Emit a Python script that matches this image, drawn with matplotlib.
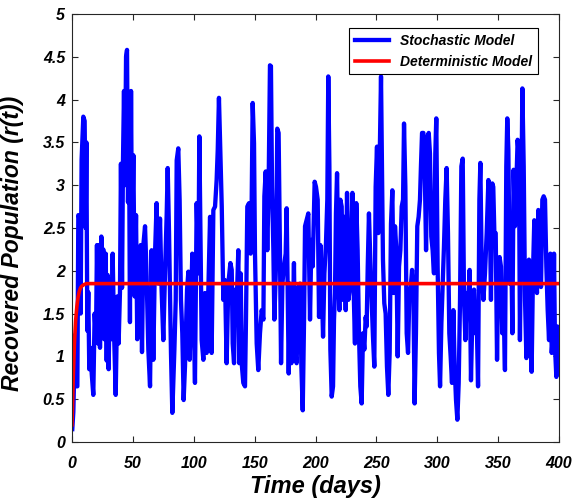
import numpy as np
import matplotlib
matplotlib.use('Agg')
from matplotlib import pyplot as plt

plt.rcParams['font.family'] = ['Liberation Sans', 'DejaVu Sans']

# Stochastic model: peaks and troughs (day, r)
stoch_days = [
    0.25, 1.1, 2.5, 3.3, 4.4, 5.2, 6.6, 7.1, 7.9, 9.3, 10.4, 11.2, 11.8, 12.6,
    13.4, 14.2, 15.3, 16.2, 17.5, 18.6, 19.7, 20.5, 21.4, 22.2, 23.0, 24.1,
    24.9, 25.7, 26.5, 27.7, 28.5, 29.3, 30.1, 31.2, 32.3, 33.4, 34.5, 35.9,
    37.2, 38.3, 39.4, 40.2, 41.1, 41.9, 42.7, 43.5, 44.4, 45.2, 46.0, 46.8,
    47.6, 48.5, 49.3, 50.4, 51.5, 52.6, 53.6, 54.8, 55.6, 56.4, 57.5, 58.6,
    60.0, 61.3, 62.7, 64.1, 65.4, 66.8, 68.2, 69.5, 70.9, 72.3, 73.6, 75.0,
    76.4, 77.8, 78.6, 79.7, 81.3, 82.4, 84.1, 85.2, 86.0, 87.3, 88.4, 89.5,
    90.6, 91.7, 92.8, 94.5, 95.6, 96.6, 97.7, 98.8, 99.9, 101.0, 102.4, 103.8,
    104.6, 105.4, 106.5, 107.9, 109.2, 110.6, 112.0, 113.4, 114.7, 116.1,
    117.5, 118.8, 119.7, 120.7, 121.8, 123.0, 124.3, 125.7, 127.0, 128.4,
    130.1, 131.2,
    132.0, 133.1, 134.1, 135.2, 136.6, 137.4, 138.5, 139.6, 140.7, 142.1,
    142.9, 144.0, 145.4, 146.7, 147.6, 148.4, 149.5, 150.3, 151.7, 153.0,
    154.4, 155.8, 157.2, 158.0, 159.1, 160.4, 161.5, 162.6, 163.4, 164.3,
    165.4, 166.2, 167.6, 168.6, 169.7, 170.8, 171.7, 172.8, 174.1, 175.5,
    176.3, 177.1, 178.0, 179.1, 180.2, 181.2, 182.3, 183.2, 184.5, 185.9,
    187.3, 188.4, 189.5, 190.6, 191.4, 192.7, 194.1, 195.5, 196.6, 197.7,
    199.3, 200.4, 201.8,
    202.9, 204.0, 205.1, 206.2, 207.3, 208.6, 209.7, 210.5, 211.4, 212.2,
    213.3, 214.4, 215.2, 216.0, 216.8, 217.7, 218.8, 219.6, 220.4, 221.5,
    222.6, 223.7, 224.8, 225.9, 227.0, 228.1, 229.2, 230.3, 231.4, 232.4,
    233.5, 234.6, 235.7, 236.8, 237.9, 239.0, 240.1, 241.2, 242.0, 242.9,
    243.9, 245.0, 246.1, 247.2, 248.3, 249.4, 250.5, 251.6, 252.7, 253.8,
    254.6, 255.4, 256.5, 257.6, 258.7, 259.8, 260.9, 262.0, 263.1, 264.2,
    265.3, 266.4, 267.5, 268.6, 269.7, 270.8, 271.9, 272.7,
    273.8, 274.9, 276.0, 277.1, 278.2, 279.3, 280.4, 281.4, 282.5, 283.6,
    284.7, 285.8, 286.6, 287.5, 288.6, 289.7, 290.8, 291.9, 293.0, 294.0,
    295.1, 296.2, 297.3, 298.4, 299.2, 300.3, 301.4, 302.3, 303.4, 304.4,
    305.5, 306.6, 307.7, 308.8, 309.9, 311.0, 312.1, 313.2, 314.3, 315.4,
    316.5, 317.6, 318.7, 319.8, 320.9, 322.0, 323.1, 324.2, 325.5, 326.6,
    327.7, 329.1, 330.2, 331.3, 332.4, 333.5, 334.6, 335.4, 336.5, 337.9,
    339.2, 340.6, 342.0,
    343.0, 344.1, 345.2, 346.0, 346.9, 348.0, 349.1, 350.2, 351.2, 352.3,
    353.4, 354.5, 355.6, 356.7, 357.5, 358.4, 359.5, 360.6, 361.7, 362.7,
    363.8, 364.9, 366.0, 367.1, 367.9, 368.8, 369.9, 371.0, 372.1, 373.2,
    374.2, 375.3, 376.4, 377.5, 378.6, 379.7, 380.8, 381.9, 383.0, 384.1,
    385.2, 386.3, 387.4, 388.5, 389.6, 390.7, 391.8, 392.9, 394.0, 395.1,
    395.9, 396.7, 397.8, 398.6, 399.4, 400.0,
]
stoch_vals = [
    0.15, 0.35, 1.25, 0.65, 0.65, 2.65, 2.6, 1.5, 3.3, 3.8, 3.75, 2.5, 3.5, 1.3,
    1.75, 0.85, 1.1, 0.8, 0.55, 1.5, 1.2, 2.3, 1.15, 2.3, 1.1, 2.4,
    1.9, 2.25, 1.2, 2.2, 0.95, 1.95, 0.85, 1.9, 1.2, 2.2, 1.3, 0.55,
    1.7, 1.15, 1.75, 3.25, 1.8, 3.3, 4.1, 3.0, 4.5, 4.58, 2.8, 3.8,
    1.4, 4.1, 2.3, 3.35, 1.7, 2.65, 1.2, 2.15, 1.45, 2.3, 1.05, 2.3,
    2.52, 1.93, 1.08, 0.65, 2.24, 0.96, 2.20, 2.79, 1.85, 2.61, 1.78, 1.19,
    1.97, 2.67, 3.20, 2.44, 1.04, 0.34, 1.08, 1.66, 3.29, 3.43, 2.83, 1.66,
    1.27, 0.49, 0.88, 1.78, 1.99, 0.96, 1.50, 2.20, 1.54, 0.69, 2.79, 1.97,
    3.57, 2.52, 1.19, 0.96, 1.74, 1.04, 1.78, 2.63, 1.04, 2.71,
    2.75, 3.06, 3.41, 4.02, 3.41, 2.75, 1.66, 1.89, 0.92, 1.85,
    2.09, 2.01,
    1.15, 0.92, 1.78, 1.58, 2.24, 0.92, 1.97, 0.88, 0.69, 0.65,
    1.43, 2.75, 2.79, 2.20, 2.83, 3.96, 3.49, 2.20, 1.15, 0.84,
    1.27, 1.54, 1.43, 2.87, 3.16, 2.24, 2.98, 4.40, 4.39, 2.98,
    2.24, 1.43, 2.09, 3.66, 3.61, 2.24, 0.92, 1.85, 2.05, 2.20,
    2.73, 1.85, 0.80, 1.85, 0.92, 1.27, 2.09, 1.08, 0.92, 1.81,
    1.85, 0.88, 0.37, 1.43, 2.52, 2.59, 2.67, 1.43, 2.36, 2.05,
    3.04, 2.98, 2.83,
    1.46, 2.30, 1.85, 1.23, 1.97, 2.32, 2.83, 4.27, 3.22, 1.08,
    0.53, 0.65, 1.43, 1.74, 2.67, 3.14, 2.01, 1.54, 2.83, 2.75,
    1.66, 2.63, 1.54, 2.91, 1.66, 1.78, 2.36, 2.91, 1.74, 1.15,
    2.79, 2.24, 1.27, 0.65, 0.45, 1.27, 1.08, 1.46, 1.35, 2.05,
    2.67, 2.13, 1.66, 1.23, 0.88, 2.98, 3.45, 2.44, 3.29, 4.27,
    3.22, 2.13, 1.62, 1.50, 0.88, 0.55, 1.04, 2.55, 2.94, 1.74,
    2.52, 2.24, 1.00, 2.05, 2.24, 2.75, 2.83, 3.72,
    2.98, 1.27, 1.04, 1.74, 1.81, 2.01, 1.74, 0.45, 1.27, 2.52,
    2.63, 2.83, 3.22, 3.61, 3.61, 3.22, 2.24, 3.57, 3.61, 3.37,
    2.40, 2.24, 1.97, 3.37, 3.78, 2.05, 1.04, 0.65, 1.39, 1.81,
    2.28, 2.83, 3.20, 2.44, 1.27, 1.00, 0.69, 1.54, 0.88, 0.49,
    0.26, 0.69, 1.66, 3.22, 3.31, 1.66, 1.19, 1.74, 1.66, 2.01,
    0.72, 1.66, 1.78, 1.27, 1.43, 0.65, 2.83, 3.26, 2.05, 1.66,
    1.97, 2.44, 3.06,
    2.91, 1.66, 3.02, 2.98, 2.44, 2.44, 0.96, 2.05, 2.16, 2.05,
    1.27, 1.58, 0.84, 3.22, 3.78, 3.41, 1.85, 2.44, 1.27, 3.18,
    2.52, 2.98, 3.53, 3.33, 1.19, 2.44, 4.13, 3.22, 1.66, 0.98,
    1.58, 2.13, 1.27, 0.82, 1.97, 2.59, 2.05, 1.74, 2.71, 2.44,
    1.81, 2.83, 2.87, 2.83, 2.05, 1.54, 1.19, 2.20, 1.04, 1.27,
    2.20, 1.11, 0.76, 1.35, 1.00, 0.80,
]

# Deterministic model
det_days = [0, 1, 2, 3, 4, 5, 6, 7, 8, 10, 12, 15, 400]
det_vals = [0.2, 0.75, 1.15, 1.42, 1.58, 1.69, 1.76, 1.80, 1.82, 1.84, 1.85, 1.85, 1.85]

x_ticks = [0, 50, 100, 150, 200, 250, 300, 350, 400]
y_ticks = [0, 0.5, 1, 1.5, 2, 2.5, 3, 3.5, 4, 4.5, 5]
y_labels = ['0', '0.5', '1', '1.5', '2', '2.5', '3', '3.5', '4', '4.5', '5']

fig = plt.figure(figsize=(5.75, 5.03), dpi=100)
ax = fig.add_axes([0.1252, 0.1213, 0.847, 0.851])

ax.plot(stoch_days, stoch_vals, color='#0000ff', lw=3.1, label='Stochastic Model')
ax.plot(det_days, det_vals, color='#ff0000', lw=2.6, label='Deterministic Model')

ax.set_xlim(0, 400)
ax.set_ylim(0, 5)
ax.set_xticks(x_ticks)
ax.set_yticks(y_ticks)
ax.set_yticklabels(y_labels)
ax.tick_params(direction='in', top=True, right=True, length=4, width=0.8,
               color='#262626', labelsize=11.5)
ax.tick_params(axis='x', pad=10)
ax.tick_params(axis='y', pad=5)
for lab in ax.get_xticklabels() + ax.get_yticklabels():
    lab.set_fontweight('bold')
    lab.set_fontstyle('italic')
for sp in ax.spines.values():
    sp.set_color('#262626')
    sp.set_linewidth(0.8)

ax.set_xlabel('Time (days)', fontsize=17, fontweight='bold', fontstyle='italic', labelpad=3)
ax.set_ylabel('Recovered Population (r(t))', fontsize=16.5, fontweight='bold',
              fontstyle='italic')
ax.yaxis.set_label_coords(-0.099, 0.465)

leg = ax.legend(loc='upper right', bbox_to_anchor=(0.957, 0.967), borderaxespad=0,
                fancybox=False, edgecolor='black', framealpha=1, handlelength=2.5,
                prop={'size': 10, 'weight': 'bold', 'style': 'italic'})
leg.get_frame().set_linewidth(0.8)

fig.savefig('out.png', dpi=100)
